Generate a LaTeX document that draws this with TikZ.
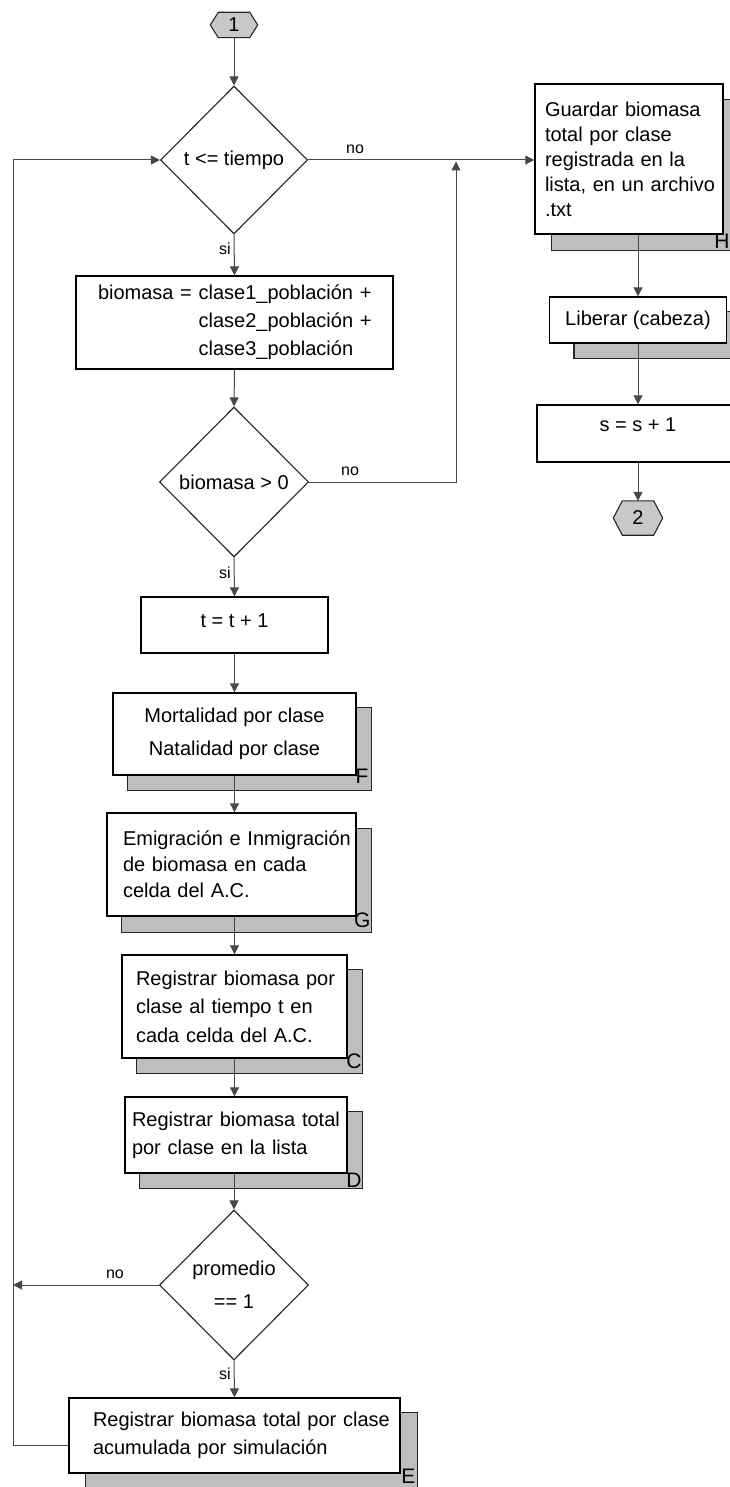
\documentclass[tikz,border=0pt]{standalone}
\usepackage{fontspec}
\setmainfont{Liberation Sans}
\usetikzlibrary{shapes.geometric,arrows.meta,calc}
\pgfdeclarelayer{bg}
\pgfsetlayers{bg,main}
\definecolor{shadegray}{RGB}{190,190,190}
\definecolor{hexgray}{RGB}{200,200,200}
\definecolor{wire}{RGB}{72,72,72}

\tikzset{
  proc/.style={rectangle, draw=black, line width=1.4pt, fill=white, inner ysep=0pt},
  txt/.style={font=\fontsize{20}{#1}\selectfont},
  cond/.style={diamond, draw=black!85, line width=1.1pt, fill=white, inner sep=0pt,
               align=center, font=\fontsize{20}{33}\selectfont},
  conn/.style={rectangle, inner sep=0pt, font=\fontsize{20}{24}\selectfont},
  hexagon/.style={draw=black!85, line width=1.1pt, fill=hexgray},
  flow/.style={draw=wire, line width=1pt, -{Triangle[length=9pt,width=9pt]}},
  lbl/.style={inner sep=0pt, font=\fontsize{16}{16}\selectfont},
  shadowbox/.style={draw=black!85, line width=1.4pt, fill=shadegray},
  tag/.style={inner sep=0pt, anchor=south east, font=\fontsize{21}{21}\selectfont},
}

\begin{document}
\begin{tikzpicture}[x=1pt, y=-1pt]
\useasboundingbox (0,0) rectangle (730,1487);

% main column
\node[conn, minimum width=47pt, minimum height=25pt] (h1) at (234,25) {1};
\node[cond, minimum width=147pt, minimum height=148pt] (d1) at (234,160) {t <= tiempo};
\node[proc, minimum width=317pt, minimum height=93pt, text width=273pt, inner xsep=22pt,
      align=left, txt=28] (bio) at (234.5,322.5)
  {\mbox{biomasa = clase1\_población +}\\\mbox{\phantom{biomasa = }clase2\_población +}\\\mbox{\phantom{biomasa = }clase3\_población}};
\node[cond, minimum width=149pt, minimum height=150pt] (d2) at (234,482) {biomasa > 0};
\node[proc, minimum width=187pt, inner xsep=0pt, text height=30pt, text depth=26pt, txt=24]
  (inc) at (234.5,625) {t = t + 1};
\node[proc, minimum width=243pt, minimum height=82pt, align=center, txt=33]
  (F) at (234.5,734) {Mortalidad por clase\\Natalidad por clase};
\node[proc, minimum height=103pt, text width=217pt, inner xsep=16pt, align=left, txt=26]
  (G) at (231.5,864.5) {\mbox{Emigración e Inmigración}\\de biomasa en cada\\celda del A.C.};
\node[proc, minimum height=103pt, text width=197pt, inner xsep=14pt, align=left, txt=28.5]
  (C) at (234.5,1006.5) {\mbox{Registrar biomasa por}\\clase al tiempo t en\\cada celda del A.C.};
\node[proc, minimum height=76pt, text width=208pt, inner xsep=7pt, align=left, txt=28]
  (D) at (236,1135) {\mbox{Registrar biomasa total}\\por clase en la lista};
\node[cond, minimum width=149pt, minimum height=150pt] (d3) at (234,1285) {promedio\\== 1};
\node[proc, minimum height=75pt, text width=283pt, inner xsep=24pt, align=left, txt=28]
  (E) at (234.5,1435.5) {\mbox{Registrar biomasa total por clase}\\acumulada por simulación};

% right column
\node[proc, minimum height=150pt, text width=168pt, inner xsep=10pt, align=left, txt=25]
  (H) at (629,159) {Guardar biomasa\\total por clase\\registrada en la\\\mbox{lista, en un archivo}\\.txt};
\node[proc, minimum width=177pt, minimum height=46pt, inner xsep=0pt, txt=24]
  (L) at (638,320) {Liberar (cabeza)};
\node[proc, minimum width=202pt, inner xsep=0pt, text height=26pt, text depth=31pt, txt=24]
  (S) at (638,433.5) {s = s + 1};
\node[conn, minimum width=49pt, minimum height=34pt] (h2) at (638,518) {2};

% page, box shadows and connector hexagons behind the nodes
\begin{pgfonlayer}{bg}
  \fill[white] (0,0) rectangle (730,1487);
  \foreach \n/\dx/\dy in {F/15/15, G/15/16, C/15/15, D/15/15, E/17/15, H/17/16, L/25/15}
    \draw[shadowbox] ([shift={(\dx,\dy)}]\n.north west) rectangle ([shift={(\dx,\dy)}]\n.south east);
  \foreach \n/\c in {h1/8, h2/9}
    \draw[hexagon] (\n.west) -- ([xshift=\c pt]\n.north west) -- ([xshift=-\c pt]\n.north east)
      -- (\n.east) -- ([xshift=-\c pt]\n.south east) -- ([xshift=\c pt]\n.south west) -- cycle;
\end{pgfonlayer}

% module letters on the shadows
\node[tag] at ([shift={(12,8)}]F.south east) {F};
\node[tag] at ([shift={(14,11)}]G.south east) {G};
\node[tag] at ([shift={(14,10)}]C.south east) {C};
\node[tag] at ([shift={(14,14)}]D.south east) {D};
\node[tag] at ([shift={(15,10)}]E.south east) {E};
\node[tag] at ([shift={(6,14)}]H.south east) {H};

% connectors
\draw[flow] (h1.south) -- (d1.north);
\draw[flow] (d1.south) -- (bio.north);
\draw[flow] (bio.south) -- (d2.north);
\draw[flow] (d2.south) -- (inc.north);
\draw[flow] (inc.south) -- (F.north);
\draw[flow] (F.south) -- (F.south |- G.north);
\draw[flow] (C.north |- G.south) -- (C.north);
\draw[flow] (C.south) -- (C.south |- D.north);
\draw[flow] (d3.north |- D.south) -- (d3.north);
\draw[flow] (d3.south) -- (E.north);

\coordinate (lt) at (13,160);
\draw[flow] ([yshift=-10pt]E.west) -| (lt) -- (d1.west);
\draw[flow] (d3.west) -- (d3.west -| lt);

\draw[flow] (d1.east) -- (d1.east -| H.west);
\coordinate (jn) at (456,161.5);
\draw[flow] (d2.east) -| (jn);

\draw[flow] (H.south -| L.north) -- (L.north);
\draw[flow] (L.south) -- (S.north);
\draw[flow] (S.south) -- (h2.north);

% branch labels
\node[lbl, anchor=north east] at ([shift={(-3,8)}]d1.south) {si};
\node[lbl, anchor=north east] at ([shift={(-3,9)}]d2.south) {si};
\node[lbl, anchor=north east] at ([shift={(-3,7)}]d3.south) {si};
\node[lbl, anchor=south] at ([shift={(47,-6)}]d1.east) {no};
\node[lbl, anchor=south] at ([shift={(41,-6)}]d2.east) {no};
\node[lbl, anchor=south] at ([shift={(-44,-6)}]d3.west) {no};
\end{tikzpicture}
\end{document}
